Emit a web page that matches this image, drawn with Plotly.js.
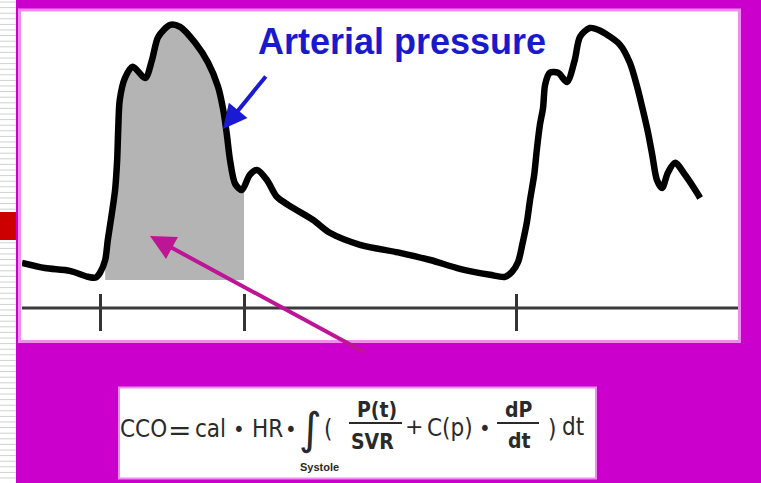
<!DOCTYPE html>
<html><head><meta charset="utf-8">
<script src="https://cdn.plot.ly/plotly-3.0.1.min.js"></script>
<style>html,body{margin:0;padding:0;background:#CC00CC;}#chart{width:761px;height:483px;}</style>
</head><body><div id="chart"></div>
<script>
// ---- data (time in s, pressure in mmHg) ----
const timeSec = [-0.150,-0.106,-0.058,-0.023,-0.008,0.000,0.010,0.015,0.023,0.029,0.033,0.035,0.038,0.048,0.063,0.087,0.100,0.112,0.135,0.154,0.183,0.208,0.227,0.237,0.244,0.250,0.260,0.273,0.288,0.302,0.321,0.340,0.365,0.410,0.442,0.500,0.577,0.635,0.692,0.750,0.779,0.792,0.804,0.812,0.821,0.827,0.835,0.840,0.846,0.852,0.856,0.865,0.881,0.898,0.913,0.923,0.942,0.962,1.000,1.019,1.033,1.044,1.054,1.062,1.071,1.081,1.092,1.106,1.125,1.148,1.154];
const pressure = [64.3,63.0,62.3,60.8,60.6,61.8,65.0,70.0,76.8,82.5,90.0,97.5,105.0,110.5,113.3,110.5,115.0,120.8,123.8,123.3,119.3,114.3,108.3,102.5,96.3,90.0,84.0,82.5,86.3,87.5,85.0,80.8,78.5,75.0,71.8,68.8,66.8,65.0,62.8,61.3,60.8,62.0,64.5,68.8,74.5,80.0,86.3,92.5,98.8,103.0,108.8,111.8,111.8,109.5,115.0,120.8,123.0,122.3,118.8,114.3,108.3,102.5,96.8,91.3,85.0,83.0,86.8,89.3,86.3,81.8,80.5];
const beatTicks = [0, 0.277, 0.8];      // beat start, end of systole, next beat
const systoleStart = 0.008;
const systoleEnd = 0.277;
const fillBase = 60;                    // floor of the shaded systolic area
const axisLevel = 53;                   // level of the time axis line
const curveLabel = 'Arterial pressure';
const formulaLabel = 'Systole';

// ---- page geometry helpers (pixels -> paper) ----
const W = 761, H = 483;
const px = x => x / W, py = y => 1 - y / H;

// shaded systolic segment, derived from the curve
const fx = [], fy = [];
for (let i = 0; i < timeSec.length; i++) {
  if (timeSec[i] >= systoleStart && timeSec[i] <= systoleEnd) { fx.push(timeSec[i]); fy.push(pressure[i]); }
}
{
  let k = timeSec.findIndex(t => t > systoleEnd);
  const t0 = timeSec[k-1], t1 = timeSec[k], p0 = pressure[k-1], p1 = pressure[k];
  fx.push(systoleEnd); fy.push(p0 + (p1 - p0) * (systoleEnd - t0) / (t1 - t0));
}

const traces = [
  {x: [fx[0], systoleEnd], y: [fillBase, fillBase], mode: 'lines', line: {width: 0}, hoverinfo: 'skip', showlegend: false},
  {x: fx, y: fy, mode: 'lines', fill: 'tonexty', fillcolor: '#B4B4B4', line: {width: 0, shape: 'spline', smoothing: 0.8}, hoverinfo: 'skip', showlegend: false},
  {x: timeSec, y: pressure, mode: 'lines', line: {color: '#000000', width: 6.5, shape: 'spline', smoothing: 0.8}, showlegend: false}
];

const shapes = [];
// left striped strip
shapes.push({type: 'rect', xref: 'paper', yref: 'paper', x0: 0, x1: px(16), y0: 0, y1: 1, fillcolor: '#FFFFFF', line: {width: 0}, layer: 'below'});
for (let y = 2; y < H; y += 5.6) {
  shapes.push({type: 'line', xref: 'paper', yref: 'paper', x0: 0, x1: px(16), y0: py(y), y1: py(y), line: {color: '#CFCFCF', width: 1}, layer: 'below'});
}
shapes.push({type: 'rect', xref: 'paper', yref: 'paper', x0: 0, x1: px(16), y0: py(240), y1: py(212), fillcolor: '#CC0000', line: {width: 0}, layer: 'below'});
// white chart panel
shapes.push({type: 'rect', xref: 'paper', yref: 'paper', x0: px(19.5), x1: px(739.5), y0: py(341.5), y1: py(10), fillcolor: '#FFFFFF', line: {color: '#F08CF0', width: 3}, layer: 'below'});
// formula panel
shapes.push({type: 'rect', xref: 'paper', yref: 'paper', x0: px(119), x1: px(596), y0: py(478.5), y1: py(387.5), fillcolor: '#FFFFFF', line: {color: '#F08CF0', width: 2}, layer: 'below'});
// time axis line
shapes.push({type: 'line', xref: 'x domain', yref: 'y', x0: 0, x1: 1, y0: axisLevel, y1: axisLevel, line: {color: '#3A3A3A', width: 3}});
// fraction bars
shapes.push({type: 'line', xref: 'paper', yref: 'paper', x0: px(349), x1: px(402), y0: py(423), y1: py(423), line: {color: '#2A2A2A', width: 2}});
shapes.push({type: 'line', xref: 'paper', yref: 'paper', x0: px(497), x1: px(539), y0: py(423), y1: py(423), line: {color: '#2A2A2A', width: 2}});

const NARROW = '"Liberation Sans Narrow", "Arial Narrow", "DejaVu Sans Condensed", sans-serif';
const INK = '#2A2A2A';
const pieces = [
  ['CCO', 143, 429, 24, NARROW],
  ['=', 179, 430, 28, 'DejaVu Sans'],
  ['cal', 210, 429, 24, NARROW],
  ['•', 239, 429, 22, NARROW],
  ['HR', 267, 429, 24, NARROW],
  ['•', 291, 429, 22, NARROW],
  ['∫', 310, 428, 44, '"DejaVu Sans", sans-serif'],
  ['(', 328, 429, 24, NARROW],
  ['<b>P(t)</b>', 377, 410, 21, NARROW],
  ['<b>SVR</b>', 372, 442, 21, NARROW],
  ['+', 414, 426, 22, 'DejaVu Sans'],
  ['C(p)', 450, 428, 24, NARROW],
  ['•', 485, 428, 22, NARROW],
  ['<b>dP</b>', 519, 410, 21, NARROW],
  ['<b>dt</b>', 519, 441, 21, NARROW],
  [')', 552, 429, 24, NARROW],
  ['dt', 573, 427, 24, NARROW],
  ['<b>' + formulaLabel + '</b>', 319, 467, 11, '"Liberation Sans", sans-serif']
];
const annotations = pieces.map(p => ({
  text: p[0], x: px(p[1]), y: py(p[2]), xref: 'paper', yref: 'paper',
  xanchor: 'center', yanchor: 'middle', showarrow: false, borderpad: 0,
  font: {family: p[4], size: p[3], color: INK}
}));
annotations.push({
  text: curveLabel, x: px(257), y: py(41), xref: 'paper', yref: 'paper', xanchor: 'left', yanchor: 'middle',
  showarrow: false, borderpad: 0, font: {family: '"Liberation Sans", Arial, sans-serif', size: 36, color: '#1A1ACD', weight: 'bold'}
});
annotations.push({
  text: '', x: px(223), y: py(129), xref: 'paper', yref: 'paper', showarrow: true,
  ax: 44, ay: -54, arrowhead: 2, arrowsize: 1.2, arrowwidth: 4, arrowcolor: '#1A1AD2', standoff: 0
});
annotations.push({
  text: '', x: px(150), y: py(236), xref: 'paper', yref: 'paper', showarrow: true,
  ax: 216, ay: 117, arrowhead: 2, arrowsize: 1.25, arrowwidth: 4, arrowcolor: '#BE1496', standoff: 0
});

const layout = {
  width: W, height: H, margin: {l: 0, r: 0, t: 0, b: 0, pad: 0},
  paper_bgcolor: '#CC00CC', plot_bgcolor: 'rgba(0,0,0,0)',
  xaxis: {domain: [px(22), px(738)], range: [-0.15, 1.226923], anchor: 'free', position: py(293),
          showgrid: false, zeroline: false, showline: false, showticklabels: false,
          ticks: 'outside', ticklen: 37, tickwidth: 3, tickcolor: '#333333',
          tickmode: 'array', tickvals: beatTicks, fixedrange: true},
  yaxis: {domain: [0, 1], range: [9.25, 130], visible: false, fixedrange: true},
  shapes: shapes, annotations: annotations, showlegend: false
};
Plotly.newPlot('chart', traces, layout, {staticPlot: true, displayModeBar: false});
</script></body></html>
